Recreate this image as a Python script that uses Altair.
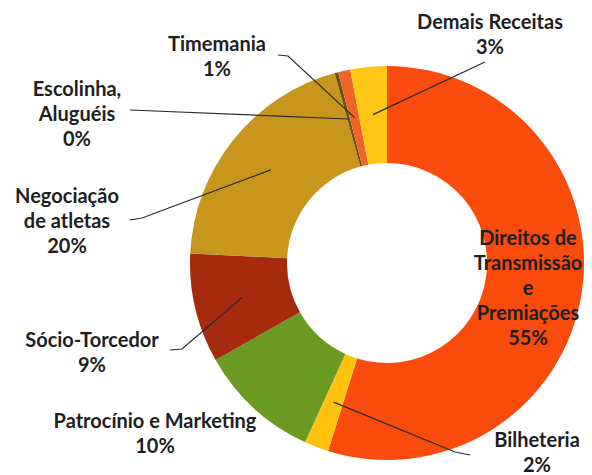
import math
import altair as alt
import pandas as pd

# ---- data ----
categories = ["Direitos de Transmissão e Premiações", "Bilheteria", "Patrocínio e Marketing",
              "Sócio-Torcedor", "Negociação de atletas", "Escolinha, Aluguéis",
              "Timemania", "Demais Receitas"]
values = [55, 2, 10, 9, 20, 0.3, 1, 3]
pct_labels = ["55%", "2%", "10%", "9%", "20%", "0%", "1%", "3%"]
label_lines = [["Direitos de", "Transmissão", "e", "Premiações"], ["Bilheteria"],
               ["Patrocínio e Marketing"], ["Sócio-Torcedor"], ["Negociação", "de atletas"],
               ["Escolinha,", "Aluguéis"], ["Timemania"], ["Demais Receitas"]]

# ---- styles / layout ----
colors = ["#F94B0B", "#FFC20E", "#6B9A23", "#A62A0E", "#C8961C", "#6E5210", "#F0642A", "#FFC616"]
CX, CY = 387, 263
R_OUT, R_IN = 197, 100
R_LEAD = 149
# position of the first line of each label (page pixels)
label_pos = [(528, 239), (537, 441), (155, 422), (92, 341), (67, 197), (77, 90), (217, 45), (490, 23)]
leader_tail = [None, [(455, 452), (470, 455)], None, [(182, 349), (170, 350)],
               [(142, 218), (130, 220)], [(130, 110)], [(288, 56), (278, 55)], [(485, 62)]]
FONT = "Lato"
FONT_SIZE = 20
LINE_H = 25
TEXT_COLOR = "#1E1E1E"

W, H = 576, 467
OFF = 8
xs = alt.Scale(domain=[OFF, OFF + W])
ys = alt.Scale(domain=[OFF, OFF + H], reverse=True)

pie_df = pd.DataFrame({"cat": categories, "value": values, "idx": list(range(len(values)))})

# leader line start points from slice mid angles
total = sum(values)
cum = 0.0
rows = []
for i, v in enumerate(values):
    mid = (cum + v / 2) / total * 2 * math.pi
    cum += v
    if leader_tail[i] is None:
        continue
    sx = CX + R_LEAD * math.sin(mid)
    sy = CY - R_LEAD * math.cos(mid)
    pts = [(sx, sy)] + leader_tail[i]
    for k, (px, py) in enumerate(pts):
        rows.append({"g": i, "o": k, "x": px, "y": py})
lead_df = pd.DataFrame(rows)

text_df = pd.DataFrame({
    "x": [p[0] for p in label_pos],
    "y": [p[1] for p in label_pos],
    "t": ["\n".join(label_lines[i] + [pct_labels[i]]) for i in range(len(values))],
})

arc = alt.Chart(pie_df).mark_arc(outerRadius=R_OUT, innerRadius=R_IN).encode(
    theta=alt.Theta("value:Q", stack=True),
    order=alt.Order("idx:Q"),
    color=alt.Color("cat:N", scale=alt.Scale(domain=categories, range=colors), legend=None),
    x=alt.value(CX - OFF),
    y=alt.value(CY - OFF),
)

lines = alt.Chart(lead_df).mark_line(color="#2A2A2A", strokeWidth=1.2).encode(
    x=alt.X("x:Q", scale=xs, axis=None),
    y=alt.Y("y:Q", scale=ys, axis=None),
    detail="g:N",
    order="o:Q",
)

texts = alt.Chart(text_df).mark_text(
    font=FONT, fontSize=FONT_SIZE, fontWeight="bold", color=TEXT_COLOR,
    lineBreak="\n", lineHeight=LINE_H, align="center", baseline="middle",
).encode(
    x=alt.X("x:Q", scale=xs, axis=None),
    y=alt.Y("y:Q", scale=ys, axis=None),
    text="t:N",
)

chart = alt.layer(arc, lines, texts).properties(
    width=W, height=H, padding=0, autosize=alt.AutoSizeParams(type="none"),
    background="white",
).configure_view(stroke=None)

chart.save("out.html", embed_options={"renderer": "svg", "actions": False})
